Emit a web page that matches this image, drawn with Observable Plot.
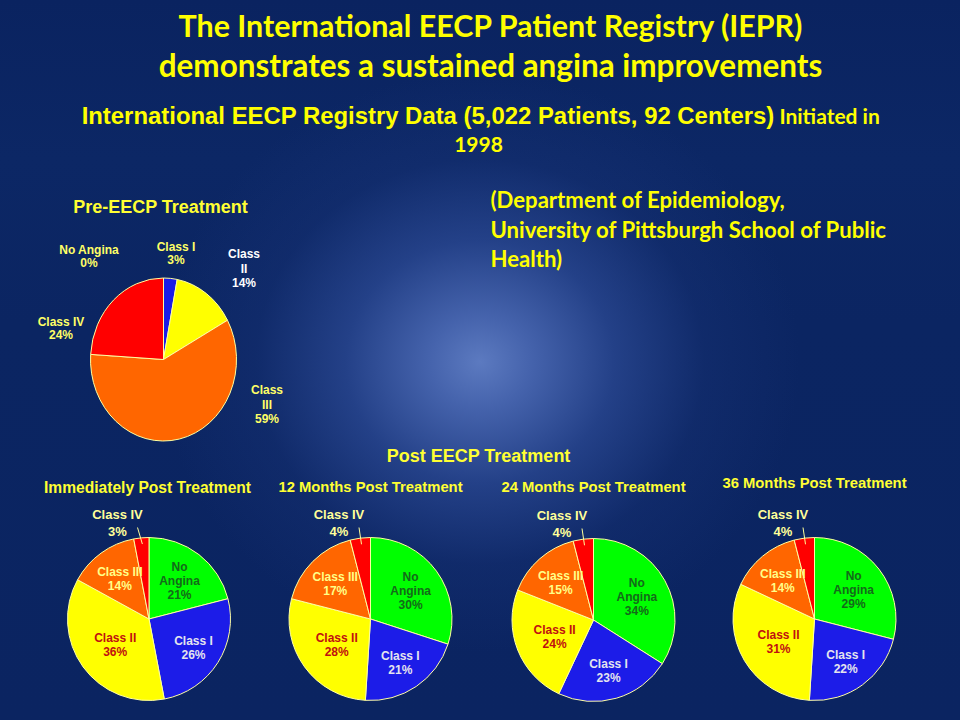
<!DOCTYPE html>
<html><head><meta charset="utf-8">
<script src="https://cdn.jsdelivr.net/npm/d3@7"></script>
<script src="https://cdn.jsdelivr.net/npm/@observablehq/plot@0.6"></script>
<style>
html,body{margin:0;padding:0;}
body{width:960px;height:720px;overflow:hidden;
background:
 radial-gradient(ellipse 320px 290px at 480px 362px, rgba(92,122,192,1) 0%, rgba(72,102,176,0.95) 16%, rgba(45,75,150,0.72) 42%, rgba(25,52,120,0.38) 70%, rgba(11,36,96,0) 100%),
 linear-gradient(180deg, #0a2360 0%, #0c2765 22%, #0b2562 45%, #0b2461 100%);}
#chart svg{display:block}
</style></head><body><div id="chart"></div>
<script>
// ---------- data ----------
const categories = ["No Angina", "Class I", "Class II", "Class III", "Class IV"];
const preValues = [0, 3, 14, 59, 24];
const immediateValues = [21, 26, 36, 14, 3];
const month12Values = [30, 21, 28, 17, 4];
const month24Values = [34, 23, 24, 15, 4];
const month36Values = [29, 22, 31, 14, 4];
const preTitle = "Pre-EECP Treatment";
const postTitle = "Post EECP Treatment";
const postPieTitles = ["Immediately Post Treatment", "12 Months Post Treatment", "24 Months Post Treatment", "36 Months Post Treatment"];
const titleLines = ["The International EECP Patient Registry (IEPR)", "demonstrates a sustained angina improvements"];
const subtitleMain = "International EECP Registry Data (5,022 Patients, 92 Centers)";
const subtitleTail = " Initiated in";
const subtitleLine2 = "1998";
const sourceLines = ["(Department of Epidemiology,", "University of Pittsburgh School of Public", "Health)"];

// ---------- style / layout ----------
const sliceColors = {"No Angina": "#00ff00", "Class I": "#1c1ce8", "Class II": "#ffff00", "Class III": "#ff6600", "Class IV": "#ff0000"};
const insideTextColors = {"No Angina": "#146a1a", "Class I": "#e4e4ee", "Class II": "#c01010", "Class III": "#ffff88"};
const insideFactor = {"No Angina": 0.6, "Class I": 0.64, "Class II": 0.52, "Class III": 0.62};
const preLabelOffset = {"No Angina": [-75, -104], "Class I": [12, -107], "Class II": [80, -92], "Class III": [103, 44], "Class IV": [-103, -32]};
const LABEL_FONT = "'Liberation Sans', Arial, sans-serif";
const TITLE_FONT = "Lato, 'Open Sans', sans-serif";
const titleWidths = [626, 664];

const pies = [
  {values: preValues, cx: 163.5, cy: 359.5, rx: 73, ry: 81.5, title: preTitle, tx: 160, ty: 207, tsize: 18, pre: true},
  {values: immediateValues, cx: 149, cy: 619, rx: 81.5, ry: 81.5, title: postPieTitles[0], tx: 147, ty: 487, tsize: 15.6},
  {values: month12Values, cx: 370.5, cy: 619, rx: 81.5, ry: 81.5, title: postPieTitles[1], tx: 370, ty: 487, tsize: 14.8},
  {values: month24Values, cx: 593.5, cy: 620, rx: 81.5, ry: 81.5, title: postPieTitles[2], tx: 593, ty: 487, tsize: 14.8},
  {values: month36Values, cx: 814.5, cy: 619, rx: 81.5, ry: 81.5, title: postPieTitles[3], tx: 814, ty: 483, tsize: 14.8}
];

const ctx = document.createElement("canvas").getContext("2d");
function measure(text, font) { ctx.font = font; return ctx.measureText(text).width; }
function fitSize(text, family, target) { return 20 * target / measure(text, `bold 20px ${family}`); }

// ---------- build slices ----------
pies.forEach(p => {
  p.rows = categories.map((c, i) => ({category: c, value: p.values[i]}));
  p.arcs = d3.pie().sort(null).value(d => d.value)(p.rows);
});

function pieMark(p) {
  return (index, scales) => {
    const cx = scales.x(p.cx), cy = scales.y(p.cy);
    const rx = scales.x(p.cx + p.rx) - cx, ry = scales.y(p.cy + p.ry) - cy;
    const arc = d3.arc().innerRadius(0).outerRadius(ry);
    const g = d3.create("svg:g").attr("transform", `translate(${cx},${cy}) scale(${rx / ry},1)`);
    g.selectAll("path").data(p.arcs.filter(a => a.data.value > 0)).join("path")
      .attr("d", arc).attr("fill", a => sliceColors[a.data.category])
      .attr("stroke", "#ffffa0").attr("stroke-width", 1).attr("vector-effect", "non-scaling-stroke");
    return g.node();
  };
}

// labels
const insideLabels = [], outsideLabels = [], leaders = [], preLabels = [];
pies.forEach(p => {
  p.arcs.forEach(a => {
    const c = a.data.category;
    const mid = (a.startAngle + a.endAngle) / 2;
    if (p.pre) {
      const [dx, dy] = preLabelOffset[c];
      const wrap = c === "Class II" || c === "Class III";
      preLabels.push({x: p.cx + dx, y: p.cy + dy, text: (wrap ? c.replace(" ", "\n") : c) + "\n" + a.data.value + "%",
        fill: c === "Class II" ? "#ffffff" : "#ffff66", lh: wrap ? 1.17 : 1.12});
    } else if (c === "Class IV") {
      outsideLabels.push({x: p.cx - 32, y: p.cy - 97.5, text: c + "\n" + a.data.value + "%"});
      const r = p.ry * 0.93;
      leaders.push({x1: p.cx - 12, y1: p.cy - 92, x2: p.cx + Math.sin(mid) * r, y2: p.cy - Math.cos(mid) * r});
    } else {
      const f = insideFactor[c] * p.ry;
      const text = (c === "No Angina" ? "No\nAngina" : c) + "\n" + a.data.value + "%";
      insideLabels.push({x: p.cx + Math.sin(mid) * f, y: p.cy - Math.cos(mid) * f, text, fill: insideTextColors[c]});
    }
  });
});

const titleRows = titleLines.map((t, i) => ({t, y: [27, 66][i], size: fitSize(t, TITLE_FONT, titleWidths[i])}));
const subMainSize = 23.9;
const subTailSize = 21;
const wMain = measure(subtitleMain, `bold ${subMainSize}px ${LABEL_FONT}`);
const wTail = measure(subtitleTail, `bold ${subTailSize}px ${TITLE_FONT}`);
const subSplit = 480 - (wMain + wTail) / 2 + wMain;
const sourceSize = fitSize(sourceLines[1], TITLE_FONT, 397);

const chart = Plot.plot({
  width: 960, height: 720, margin: 0,
  x: {domain: [0, 960], range: [0, 960], axis: null},
  y: {domain: [0, 720], range: [0, 720], axis: null},
  color: {type: "identity"},
  style: {background: "transparent", overflow: "visible"},
  marks: [
    ...pies.map(pieMark),
    Plot.link(leaders, {x1: "x1", y1: "y1", x2: "x2", y2: "y2", stroke: "#ffff99", strokeWidth: 1}),
    Plot.text(titleRows, {x: () => 490, y: "y", text: "t", fill: "#ffff00", fontSize: "size", fontWeight: "bold", fontFamily: TITLE_FONT}),
    Plot.text([subtitleMain], {x: () => subSplit, y: () => 116, text: d => d, textAnchor: "end", fill: "#ffff00", fontSize: subMainSize, fontWeight: "bold", fontFamily: LABEL_FONT}),
    Plot.text([subtitleTail], {x: () => subSplit, y: () => 117, text: d => d, textAnchor: "start", fill: "#ffff00", fontSize: subTailSize, fontWeight: "bold", fontFamily: TITLE_FONT}),
    Plot.text([subtitleLine2], {x: () => 478, y: () => 145, text: d => d, fill: "#ffff00", fontSize: subTailSize, fontWeight: "bold", fontFamily: TITLE_FONT}),
    Plot.text(sourceLines.map((t, i) => ({t, y: [200, 230, 259][i]})), {x: () => 490, y: "y", text: "t", textAnchor: "start", fill: "#ffff00", fontSize: sourceSize, fontWeight: "bold", fontFamily: TITLE_FONT}),
    Plot.text([postTitle], {x: () => 478, y: () => 456, text: d => d, fill: "#ffff33", fontSize: 18, fontWeight: "bold", fontFamily: LABEL_FONT}),
    Plot.text(pies, {x: "tx", y: "ty", text: "title", fill: "#ffff33", fontSize: "tsize", fontWeight: "bold", fontFamily: LABEL_FONT}),
    Plot.text(preLabels.filter(d => d.lh > 1.15), {x: "x", y: "y", text: "text", fill: d => d.fill, fontSize: 12, lineHeight: 1.17, fontWeight: "bold", fontFamily: LABEL_FONT}),
    Plot.text(preLabels.filter(d => d.lh <= 1.15), {x: "x", y: "y", text: "text", fill: d => d.fill, fontSize: 12, lineHeight: 1.12, fontWeight: "bold", fontFamily: LABEL_FONT}),
    Plot.text(outsideLabels, {x: "x", y: "y", text: "text", fill: "#ffff99", fontSize: 13, lineHeight: 1.28, fontWeight: "bold", fontFamily: LABEL_FONT}),
    Plot.text(insideLabels, {x: "x", y: "y", text: "text", fill: d => d.fill, fontSize: 12, lineHeight: 1.17, fontWeight: "bold", fontFamily: LABEL_FONT})
  ]
});
document.getElementById("chart").append(chart);
</script>
</body></html>
